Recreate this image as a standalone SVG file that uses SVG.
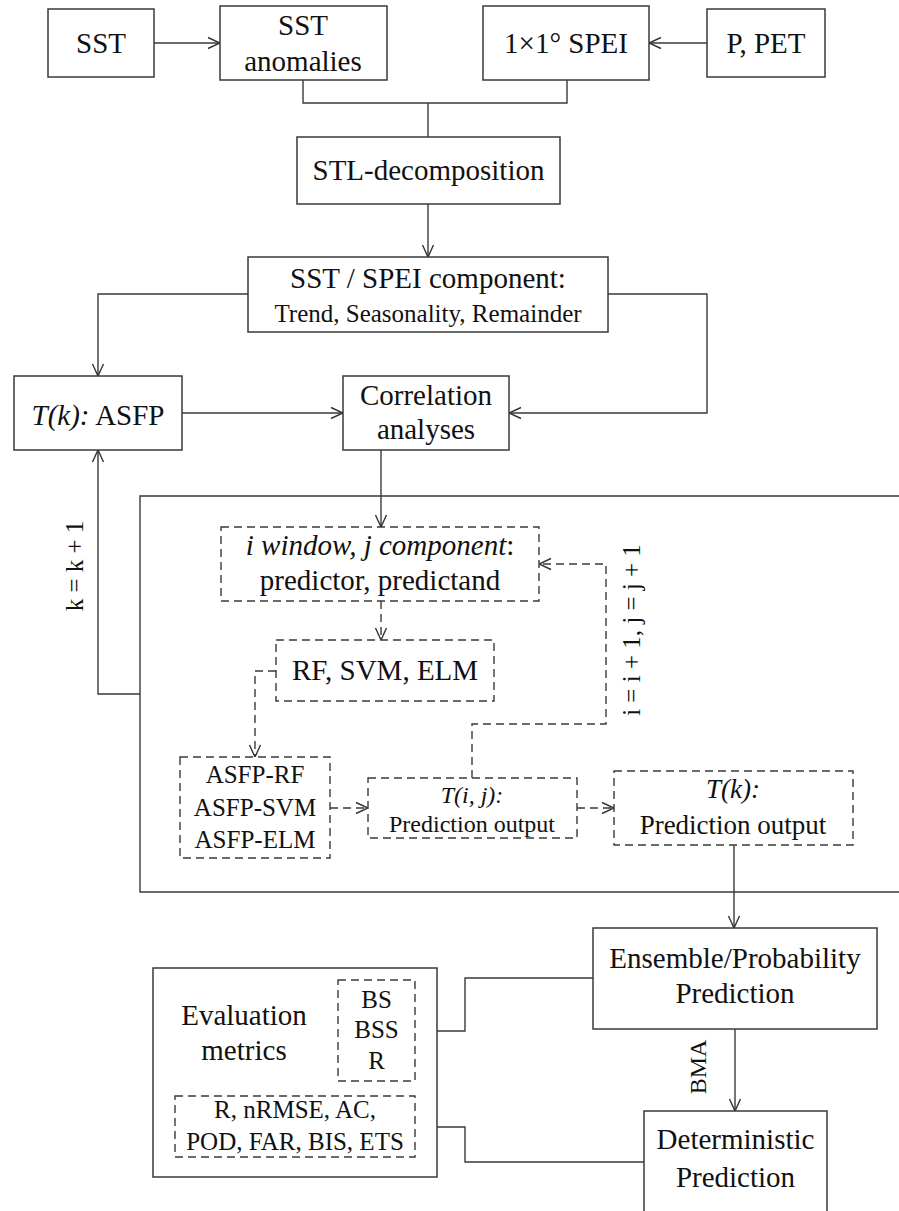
<svg xmlns="http://www.w3.org/2000/svg" width="899" height="1211" viewBox="0 0 899 1211" font-family="'Liberation Serif', 'DejaVu Serif', serif">
<defs>
<marker id="arr" viewBox="0 0 14 14" markerWidth="14" markerHeight="14" refX="13" refY="7" orient="auto" markerUnits="userSpaceOnUse">
<path d="M1,1.5 L13,7 L1,12.5" fill="none" stroke="#333" stroke-width="1.4"/>
</marker>
<style>
.b{fill:#fff;stroke:#3a3a3a;stroke-width:1.5}
.d{fill:#fff;stroke:#3a3a3a;stroke-width:1.4;stroke-dasharray:8 5}
.c{fill:none;stroke:#3a3a3a;stroke-width:1.4}
.cd{fill:none;stroke:#3a3a3a;stroke-width:1.4;stroke-dasharray:8 5}
.a{marker-end:url(#arr)}
text{font-family:'Liberation Serif','DejaVu Serif',serif;fill:#111;text-anchor:middle}
.f29{font-size:29px}
.f27{font-size:27px}
.f25{font-size:25px}
.f24{font-size:24px}
.it{font-style:italic}
</style>
</defs>
<rect width="899" height="1211" fill="#fff"/>

<g id="frame">
<path class="c" d="M899,496 H140 V892 H899"/>
</g>

<g id="connectors">
<path class="c a" d="M154,43 H220"/>
<path class="c a" d="M707,43 H649"/>
<path class="c" d="M303,80 V103 H567 V80"/>
<path class="c" d="M428,103 V137"/>
<path class="c a" d="M428,204 V257"/>
<path class="c a" d="M248,294 H98 V376"/>
<path class="c a" d="M608,294 H707 V413 H509"/>
<path class="c a" d="M182,413 H343"/>
<path class="c a" d="M381,450 V527"/>
<path class="c a" d="M140,694 H98 V450"/>
<path class="cd a" d="M381,601 V640"/>
<path class="cd a" d="M276,671 H255 V757"/>
<path class="cd a" d="M330,808 H368"/>
<path class="cd a" d="M472,778 V724 H606 V564 H539"/>
<path class="cd a" d="M577,808 H614"/>
<path class="c a" d="M734,845 V928"/>
<path class="c a" d="M735,1029 V1111"/>
<path class="c a" d="M593,978 H465 V1031 H415"/>
<path class="c a" d="M644,1162 H465 V1127 H415"/>
<text class="f25" transform="translate(83,566) rotate(-90)">k = k + 1</text>
<text class="f25" transform="translate(640,630) rotate(-90)">i = i + 1, j = j + 1</text>
<text class="f24" transform="translate(706,1067) rotate(-90)">BMA</text>
</g>

<g id="sst">
<rect class="b" x="48" y="9" width="106" height="68"/>
<text class="f29" x="101" y="53">SST</text>
</g>
<g id="sst-anomalies">
<rect class="b" x="220" y="6" width="167" height="74"/>
<text class="f29" x="303" y="35">SST</text>
<text class="f29" x="303" y="71">anomalies</text>
</g>
<g id="spei">
<rect class="b" x="483" y="6" width="166" height="74"/>
<text class="f29" x="566" y="53">1×1° SPEI</text>
</g>
<g id="p-pet">
<rect class="b" x="707" y="9" width="118" height="68"/>
<text class="f29" x="766" y="53">P, PET</text>
</g>
<g id="stl">
<rect class="b" x="297" y="137" width="263" height="67"/>
<text class="f29" x="428.5" y="180">STL-decomposition</text>
</g>
<g id="component">
<rect class="b" x="248" y="257" width="360" height="75"/>
<text class="f29" x="428" y="288">SST / SPEI component:</text>
<text class="f25" x="428" y="322">Trend, Seasonality, Remainder</text>
</g>
<g id="tk-asfp">
<rect class="b" x="14" y="376" width="168" height="74"/>
<text class="f29" x="98" y="425"><tspan class="it">T(k):</tspan> ASFP</text>
</g>
<g id="correlation">
<rect class="b" x="343" y="376" width="166" height="74"/>
<text class="f29" x="426" y="405">Correlation</text>
<text class="f29" x="426" y="439">analyses</text>
</g>
<g id="window">
<rect class="d" x="221" y="527" width="318" height="74"/>
<text class="f29" x="380" y="555"><tspan class="it">i window, j component</tspan>:</text>
<text class="f29" x="380" y="590">predictor, predictand</text>
</g>
<g id="models">
<rect class="d" x="276" y="640" width="218" height="61"/>
<text class="f29" x="385" y="680">RF, SVM, ELM</text>
</g>
<g id="asfp-models">
<rect class="d" x="180" y="757" width="150" height="101"/>
<text class="f25" x="255" y="783">ASFP-RF</text>
<text class="f25" x="255" y="816">ASFP-SVM</text>
<text class="f25" x="255" y="848">ASFP-ELM</text>
</g>
<g id="tij">
<rect class="d" x="368" y="778" width="209" height="60"/>
<text class="f24 it" x="472" y="803">T(i, j):</text>
<text class="f24" x="472" y="832">Prediction output</text>
</g>
<g id="tk-output">
<rect class="d" x="614" y="771" width="239" height="74"/>
<text class="f27 it" x="733" y="798">T(k):</text>
<text class="f27" x="733" y="834">Prediction output</text>
</g>
<g id="ensemble">
<rect class="b" x="593" y="928" width="284" height="101"/>
<text class="f29" x="735" y="968">Ensemble/Probability</text>
<text class="f29" x="735" y="1003">Prediction</text>
</g>
<g id="deterministic">
<rect class="b" x="644" y="1111" width="183" height="110"/>
<text class="f29" x="735.5" y="1149">Deterministic</text>
<text class="f29" x="735.5" y="1187">Prediction</text>
</g>
<g id="evaluation">
<rect class="b" x="153" y="968" width="284" height="209"/>
<text class="f29" x="244" y="1025">Evaluation</text>
<text class="f29" x="244" y="1060">metrics</text>
</g>
<g id="prob-metrics">
<rect class="d" x="338" y="980" width="77" height="101"/>
<text class="f25" x="376.5" y="1008">BS</text>
<text class="f25" x="376.5" y="1038">BSS</text>
<text class="f25" x="376.5" y="1069">R</text>
</g>
<g id="det-metrics">
<rect class="d" x="175" y="1096" width="240" height="61"/>
<text class="f25" x="295" y="1118">R, nRMSE, AC,</text>
<text class="f25" x="295" y="1150">POD, FAR, BIS, ETS</text>
</g>
</svg>
